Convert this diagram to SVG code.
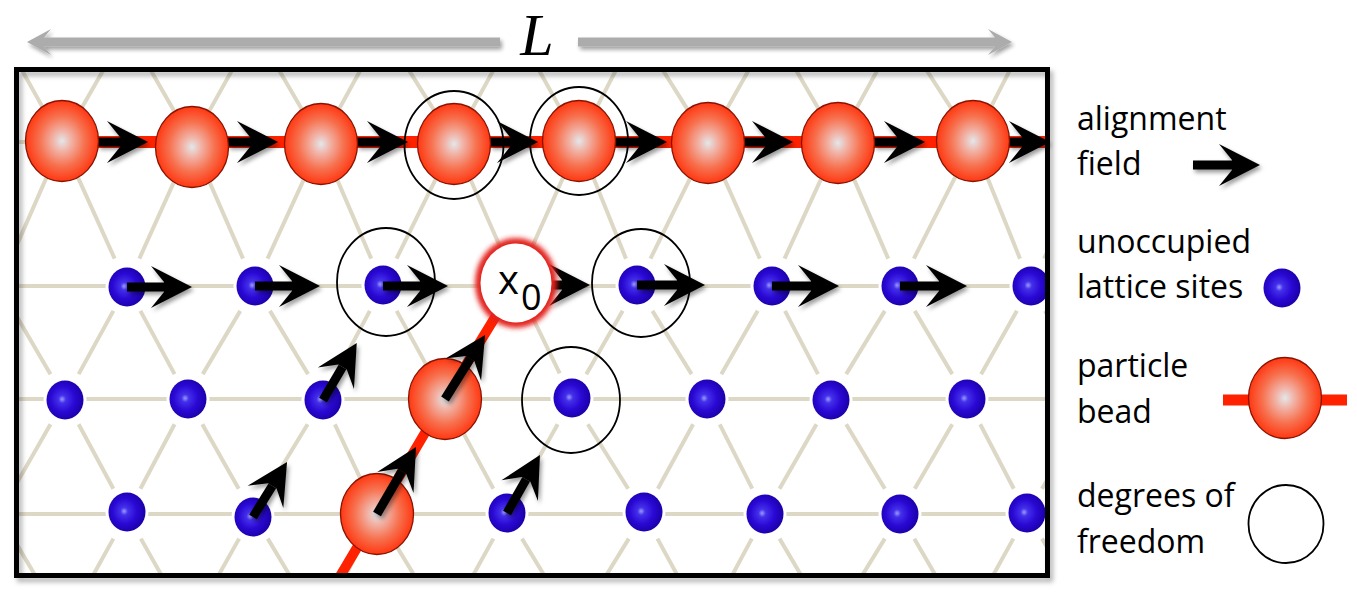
<svg xmlns="http://www.w3.org/2000/svg" width="1357" height="594" viewBox="0 0 1357 594">
<defs>
<style>
.lat{stroke:#ddd8c5;stroke-width:4;fill:none}
.d{stroke-dasharray:0 22 56 100}
.d2{stroke-dasharray:0 19 62 100}
.poly{stroke:#ff2200;fill:none;stroke-linejoin:round}
.fa{stroke:#000;stroke-width:9;fill:none;marker-end:url(#ah);filter:url(#sh)}
.dof{fill:none;stroke:#000;stroke-width:1.8}
.lg{font-family:"Open Sans","DejaVu Sans",sans-serif;font-size:32px;fill:#000}
</style>
<radialGradient id="beadG" cx="0.5" cy="0.5" r="0.5">
<stop offset="0" stop-color="#e3e7ea"/>
<stop offset="0.25" stop-color="#f1b3a7"/>
<stop offset="0.62" stop-color="#f7714f"/>
<stop offset="1" stop-color="#ff3812"/>
</radialGradient>
<radialGradient id="blueG" cx="0.45" cy="0.48" r="0.56" fx="0.42" fy="0.48">
<stop offset="0" stop-color="#9a9aff"/>
<stop offset="0.18" stop-color="#4430ea"/>
<stop offset="0.58" stop-color="#2a08d4"/>
<stop offset="1" stop-color="#1a00a6"/>
</radialGradient>
<filter id="sh" filterUnits="userSpaceOnUse" x="0" y="0" width="1357" height="594">
<feDropShadow dx="2" dy="3" stdDeviation="2" flood-color="#000" flood-opacity="0.4"/>
</filter>
<filter id="fsh" filterUnits="userSpaceOnUse" x="0" y="0" width="1357" height="594">
<feDropShadow dx="3" dy="4" stdDeviation="2.5" flood-color="#000" flood-opacity="0.3"/>
</filter>
<filter id="glow" x="-40%" y="-40%" width="180%" height="180%">
<feGaussianBlur stdDeviation="2.5"/>
</filter>
<marker id="ah" markerUnits="userSpaceOnUse" viewBox="-44 -24 48 48" markerWidth="48" markerHeight="48" refX="-28" refY="0" orient="auto">
<path d="M0,0 L-41,-21 L-28,-5 L-28,5 L-41,21 Z" fill="#000"/>
</marker>
<marker id="gh" markerUnits="userSpaceOnUse" viewBox="-26 -14 28 28" markerWidth="28" markerHeight="28" refX="-17" refY="0" orient="auto">
<path d="M0,0 L-24,-13 L-17,-4.5 L-17,4.5 L-24,13 Z" fill="#a8a8a8"/>
</marker>
<clipPath id="inner"><rect x="19" y="72" width="1026" height="502"/></clipPath>
<g id="dotS"><ellipse rx="21.5" ry="22.5" fill="#fff"/><ellipse rx="18.5" ry="19.5" fill="url(#blueG)"/></g>
<ellipse id="beadS" rx="36.5" ry="40.5" fill="url(#beadG)" stroke="#8a1200" stroke-width="1.3"/>
</defs>
<rect x="0" y="0" width="1357" height="594" fill="#fff"/>

<g id="length-marker">
<g filter="url(#sh)" opacity="0.95">
<line x1="500" y1="42" x2="44" y2="42" stroke="#a8a8a8" stroke-width="9" marker-end="url(#gh)"/>
<line x1="578" y1="42" x2="995" y2="42" stroke="#a8a8a8" stroke-width="9" marker-end="url(#gh)"/>
</g>
<text x="537" y="55" font-family="Liberation Serif" font-style="italic" font-size="60" text-anchor="middle" fill="#000">L</text>
</g>

<g id="connectors">
<g id="lattice" class="lat" clip-path="url(#inner)">
<line x1="19" y1="142" x2="1045" y2="142"/>
<line x1="19" y1="286" x2="1045" y2="286"/>
<line x1="19" y1="399" x2="1045" y2="399"/>
<line x1="19" y1="514" x2="1045" y2="514"/>
<g class="d">
<line pathLength="100" x1="-1" y1="29" x2="62" y2="142"/>
<line pathLength="100" x1="127" y1="29" x2="62" y2="142"/>
<line pathLength="100" x1="127" y1="29" x2="192" y2="142"/>
<line pathLength="100" x1="255" y1="29" x2="192" y2="142"/>
<line pathLength="100" x1="255" y1="29" x2="321" y2="142"/>
<line pathLength="100" x1="383" y1="29" x2="321" y2="142"/>
<line pathLength="100" x1="383" y1="29" x2="454" y2="142"/>
<line pathLength="100" x1="516" y1="29" x2="454" y2="142"/>
<line pathLength="100" x1="516" y1="29" x2="579" y2="142"/>
<line pathLength="100" x1="637" y1="29" x2="579" y2="142"/>
<line pathLength="100" x1="637" y1="29" x2="708" y2="142"/>
<line pathLength="100" x1="772" y1="29" x2="708" y2="142"/>
<line pathLength="100" x1="772" y1="29" x2="838" y2="142"/>
<line pathLength="100" x1="900" y1="29" x2="838" y2="142"/>
<line pathLength="100" x1="900" y1="29" x2="973" y2="142"/>
<line pathLength="100" x1="1031" y1="29" x2="973" y2="142"/>
<line pathLength="100" x1="1031" y1="29" x2="1100" y2="142"/>

<line pathLength="100" x1="-1" y1="286" x2="65" y2="399"/>
<line pathLength="100" x1="127" y1="286" x2="65" y2="399"/>
<line pathLength="100" x1="127" y1="286" x2="188" y2="399"/>
<line pathLength="100" x1="255" y1="286" x2="188" y2="399"/>
<line pathLength="100" x1="255" y1="286" x2="323" y2="399"/>
<line pathLength="100" x1="383" y1="286" x2="323" y2="399"/>
<line pathLength="100" x1="383" y1="286" x2="445" y2="399"/>
<line pathLength="100" x1="516" y1="283" x2="445" y2="399"/>
<line pathLength="100" x1="516" y1="283" x2="572" y2="399"/>
<line pathLength="100" x1="637" y1="286" x2="572" y2="399"/>
<line pathLength="100" x1="637" y1="286" x2="707" y2="399"/>
<line pathLength="100" x1="772" y1="286" x2="707" y2="399"/>
<line pathLength="100" x1="772" y1="286" x2="831" y2="399"/>
<line pathLength="100" x1="900" y1="286" x2="831" y2="399"/>
<line pathLength="100" x1="900" y1="286" x2="967" y2="399"/>
<line pathLength="100" x1="1031" y1="286" x2="967" y2="399"/>
<line pathLength="100" x1="1031" y1="286" x2="1095" y2="399"/>

<line pathLength="100" x1="65" y1="399" x2="-1" y2="514"/>
<line pathLength="100" x1="65" y1="399" x2="127" y2="514"/>
<line pathLength="100" x1="188" y1="399" x2="127" y2="514"/>
<line pathLength="100" x1="188" y1="399" x2="253" y2="514"/>
<line pathLength="100" x1="323" y1="399" x2="253" y2="514"/>
<line pathLength="100" x1="323" y1="399" x2="377" y2="514"/>
<line pathLength="100" x1="445" y1="399" x2="377" y2="514"/>
<line pathLength="100" x1="445" y1="399" x2="507" y2="514"/>
<line pathLength="100" x1="572" y1="399" x2="507" y2="514"/>
<line pathLength="100" x1="572" y1="399" x2="644" y2="514"/>
<line pathLength="100" x1="707" y1="399" x2="644" y2="514"/>
<line pathLength="100" x1="707" y1="399" x2="765" y2="514"/>
<line pathLength="100" x1="831" y1="399" x2="765" y2="514"/>
<line pathLength="100" x1="831" y1="399" x2="900" y2="514"/>
<line pathLength="100" x1="967" y1="399" x2="900" y2="514"/>
<line pathLength="100" x1="967" y1="399" x2="1027" y2="514"/>
<line pathLength="100" x1="1095" y1="399" x2="1027" y2="514"/>

<line pathLength="100" x1="-1" y1="514" x2="65" y2="626"/>
<line pathLength="100" x1="127" y1="514" x2="65" y2="626"/>
<line pathLength="100" x1="127" y1="514" x2="190" y2="626"/>
<line pathLength="100" x1="253" y1="514" x2="190" y2="626"/>
<line pathLength="100" x1="253" y1="514" x2="320" y2="626"/>
<line pathLength="100" x1="377" y1="514" x2="320" y2="626"/>
<line pathLength="100" x1="377" y1="514" x2="445" y2="626"/>
<line pathLength="100" x1="507" y1="514" x2="445" y2="626"/>
<line pathLength="100" x1="507" y1="514" x2="575" y2="626"/>
<line pathLength="100" x1="644" y1="514" x2="575" y2="626"/>
<line pathLength="100" x1="644" y1="514" x2="705" y2="626"/>
<line pathLength="100" x1="765" y1="514" x2="705" y2="626"/>
<line pathLength="100" x1="765" y1="514" x2="831" y2="626"/>
<line pathLength="100" x1="900" y1="514" x2="831" y2="626"/>
<line pathLength="100" x1="900" y1="514" x2="965" y2="626"/>
<line pathLength="100" x1="1027" y1="514" x2="965" y2="626"/>
<line pathLength="100" x1="1027" y1="514" x2="1095" y2="626"/>
</g>
<g class="d2">
<line pathLength="100" x1="62" y1="142" x2="-1" y2="286"/>
<line pathLength="100" x1="62" y1="142" x2="127" y2="286"/>
<line pathLength="100" x1="192" y1="142" x2="127" y2="286"/>
<line pathLength="100" x1="192" y1="142" x2="255" y2="286"/>
<line pathLength="100" x1="321" y1="142" x2="255" y2="286"/>
<line pathLength="100" x1="321" y1="142" x2="383" y2="286"/>
<line pathLength="100" x1="454" y1="142" x2="383" y2="286"/>
<line pathLength="100" x1="454" y1="142" x2="516" y2="283"/>
<line pathLength="100" x1="579" y1="142" x2="516" y2="283"/>
<line pathLength="100" x1="579" y1="142" x2="637" y2="286"/>
<line pathLength="100" x1="708" y1="142" x2="637" y2="286"/>
<line pathLength="100" x1="708" y1="142" x2="772" y2="286"/>
<line pathLength="100" x1="838" y1="142" x2="772" y2="286"/>
<line pathLength="100" x1="838" y1="142" x2="900" y2="286"/>
<line pathLength="100" x1="973" y1="142" x2="900" y2="286"/>
<line pathLength="100" x1="973" y1="142" x2="1031" y2="286"/>
<line pathLength="100" x1="1100" y1="142" x2="1031" y2="286"/>
</g>
</g>
<g id="polymer" class="poly" clip-path="url(#inner)">
<line x1="62" y1="142" x2="1046" y2="142" stroke-width="12"/>
<polyline points="516,283 445,399 377,514 336,583" stroke-width="10"/>
</g>
</g>

<g id="field-top">
<line class="fa" x1="98" y1="142" x2="120" y2="142"/>
<line class="fa" x1="228" y1="142" x2="250" y2="142"/>
<line class="fa" x1="357" y1="142" x2="380" y2="142"/>
<line class="fa" x1="490" y1="142" x2="510" y2="142"/>
<line class="fa" x1="615" y1="142" x2="639" y2="142"/>
<line class="fa" x1="744" y1="142" x2="765" y2="142"/>
<line class="fa" x1="874" y1="142" x2="897" y2="142"/>
<line class="fa" x1="1009" y1="142" x2="1022" y2="142"/>
</g>

<g id="beads">
<g id="bead-1"><use href="#beadS" x="62" y="141"/></g>
<g id="bead-2"><use href="#beadS" x="192" y="147"/></g>
<g id="bead-3"><use href="#beadS" x="321" y="144"/></g>
<g id="bead-4"><use href="#beadS" x="454" y="144"/></g>
<g id="bead-5"><use href="#beadS" x="579" y="141"/></g>
<g id="bead-6"><use href="#beadS" x="708" y="143"/></g>
<g id="bead-7"><use href="#beadS" x="838" y="143"/></g>
<g id="bead-8"><use href="#beadS" x="973" y="141"/></g>
<g id="bead-9"><use href="#beadS" x="445" y="399"/></g>
<g id="bead-10"><use href="#beadS" x="377" y="514"/></g>
</g>

<g id="sites">
<g id="site-2-1"><use href="#dotS" x="127" y="287"/></g>
<g id="site-2-2"><use href="#dotS" x="255" y="286"/></g>
<g id="site-2-3"><use href="#dotS" x="383" y="285"/></g>
<g id="site-2-5"><use href="#dotS" x="637" y="285"/></g>
<g id="site-2-6"><use href="#dotS" x="772" y="286"/></g>
<g id="site-2-7"><use href="#dotS" x="900" y="286"/></g>
<g id="site-2-8"><use href="#dotS" x="1031" y="286"/></g>
<g id="site-3-1"><use href="#dotS" x="65" y="400"/></g>
<g id="site-3-2"><use href="#dotS" x="188" y="399"/></g>
<g id="site-3-3"><use href="#dotS" x="323" y="400"/></g>
<g id="site-3-5"><use href="#dotS" x="572" y="398"/></g>
<g id="site-3-6"><use href="#dotS" x="707" y="399"/></g>
<g id="site-3-7"><use href="#dotS" x="831" y="400"/></g>
<g id="site-3-8"><use href="#dotS" x="967" y="399"/></g>
<g id="site-4-1"><use href="#dotS" x="127" y="512"/></g>
<g id="site-4-2"><use href="#dotS" x="253" y="517"/></g>
<g id="site-4-4"><use href="#dotS" x="507" y="513"/></g>
<g id="site-4-5"><use href="#dotS" x="644" y="512"/></g>
<g id="site-4-6"><use href="#dotS" x="765" y="514"/></g>
<g id="site-4-7"><use href="#dotS" x="900" y="514"/></g>
<g id="site-4-8"><use href="#dotS" x="1027" y="513"/></g>
</g>

<g id="field-lower">
<line class="fa" x1="127" y1="287" x2="164" y2="287"/>
<line class="fa" x1="255" y1="286" x2="292" y2="286"/>
<line class="fa" x1="383" y1="286" x2="420" y2="286"/>
<line class="fa" x1="540" y1="285" x2="562" y2="285"/>
<line class="fa" x1="637" y1="285" x2="677" y2="285"/>
<line class="fa" x1="772" y1="286" x2="811" y2="286"/>
<line class="fa" x1="900" y1="286" x2="939" y2="286"/>
<line class="fa" x1="323" y1="400" x2="342.5" y2="367"/>
<line class="fa" x1="445" y1="399" x2="470.2" y2="358.7"/>
<line class="fa" x1="253" y1="517" x2="272.3" y2="485.8"/>
<line class="fa" x1="377" y1="514" x2="401.9" y2="471.2"/>
<line class="fa" x1="507" y1="513" x2="526.1" y2="479.4"/>
</g>

<g id="x0">
<ellipse cx="516" cy="283" rx="41" ry="45" fill="#e3201c" filter="url(#glow)"/>
<ellipse cx="516" cy="283" rx="35.5" ry="39.5" fill="#fff"/>
<text font-family="'Open Sans','DejaVu Sans',sans-serif" fill="#000"><tspan x="498" y="294" font-size="40">x</tspan><tspan x="521" y="310" font-size="36">0</tspan></text>
</g>

<g id="dof">
<ellipse class="dof" cx="454" cy="145" rx="49.5" ry="54"/>
<ellipse class="dof" cx="579" cy="141" rx="49" ry="54"/>
<ellipse class="dof" cx="386" cy="282" rx="49" ry="54"/>
<ellipse class="dof" cx="641" cy="283" rx="49" ry="54"/>
<ellipse class="dof" cx="571" cy="400" rx="49" ry="53"/>
</g>

<g id="frame">
<rect x="16.5" y="69.5" width="1031" height="506" fill="none" stroke="#000" stroke-width="5" filter="url(#fsh)"/>
</g>

<g id="legend-field">
<text class="lg" x="1077" y="130">alignment</text>
<text class="lg" x="1077" y="175">field</text>
<line class="fa" x1="1193" y1="165" x2="1232" y2="165"/>
</g>
<g id="legend-sites">
<text class="lg" x="1077" y="253">unoccupied</text>
<text class="lg" x="1077" y="298">lattice sites</text>
<use href="#dotS" x="1282" y="288"/>
</g>
<g id="legend-bead">
<text class="lg" x="1077" y="377">particle</text>
<text class="lg" x="1077" y="423">bead</text>
<line x1="1223" y1="400" x2="1347" y2="400" stroke="#ff2200" stroke-width="11"/>
<use href="#beadS" x="1285" y="398"/>
</g>
<g id="legend-dof">
<text class="lg" x="1077" y="507">degrees of</text>
<text class="lg" x="1077" y="553">freedom</text>
<ellipse class="dof" cx="1286" cy="524" rx="37.5" ry="39"/>
</g>
</svg>
